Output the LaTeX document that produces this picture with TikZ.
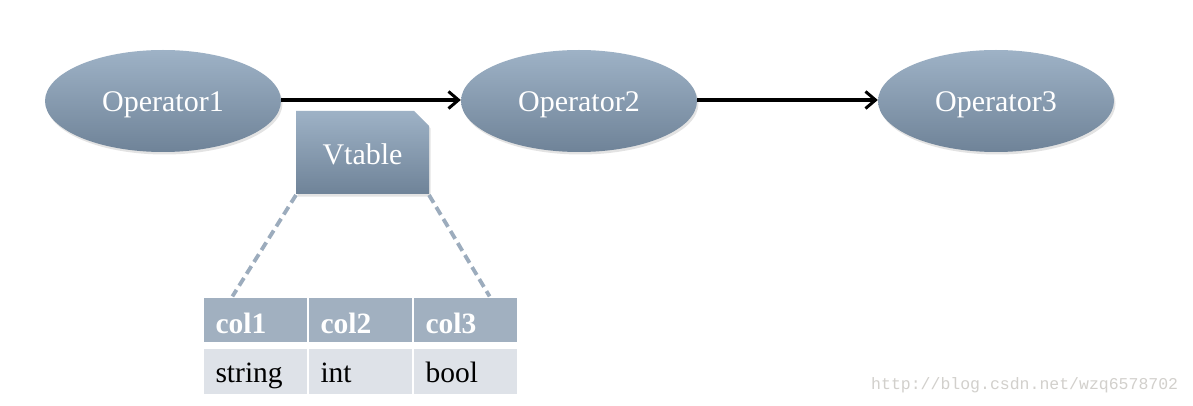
\documentclass[tikz,border=0pt]{standalone}
\usepackage{fontspec}
\setmainfont{Liberation Serif}
\newfontfamily\wmfont{Liberation Mono}
\usetikzlibrary{shapes.geometric,shadows,arrows.meta,calc}
\definecolor{optop}{HTML}{9EB2C6}
\definecolor{opbot}{HTML}{6F8398}
\definecolor{hdrfill}{HTML}{A1B0C0}
\definecolor{datfill}{HTML}{DEE2E8}
\definecolor{dashcol}{HTML}{9CACBD}
\definecolor{wmcol}{HTML}{D2D0CC}
\begin{document}
\begin{tikzpicture}[x=1pt,y=-1pt,
  opnode/.style={ellipse, minimum width=236pt, minimum height=102pt, inner sep=0pt,
    top color=optop, bottom color=opbot, text=white,
    font=\fontsize{30}{32}\selectfont, text height=22pt, text depth=0pt,
    drop shadow={opacity=0.22, shadow xshift=1.5pt, shadow yshift=-2.5pt}},
  flow/.style={line width=3.2pt, -{Straight Barb[length=10pt,width=17pt,line width=3pt]}},
  vtshade/.style={top color=optop, bottom color=opbot,
    drop shadow={opacity=0.22, shadow xshift=1.5pt, shadow yshift=-2.5pt}},
  vtlabel/.style={text=white, font=\fontsize{30}{32}\selectfont, inner sep=0pt,
    text height=25pt, text depth=0pt},
  hdrcell/.style={fill=hdrfill, draw=white, line width=1.2pt, minimum width=105pt, minimum height=46pt,
    inner sep=0pt, text=white, font=\bfseries\fontsize{29.5}{32}\selectfont,
    text width=80pt, align=left, text height=30pt, text depth=4pt},
  datcell/.style={fill=datfill, draw=white, line width=1.2pt, minimum width=105pt, minimum height=47pt,
    inner sep=0pt, text=black, font=\fontsize{29.5}{32}\selectfont,
    text width=80pt, align=left, text height=25pt, text depth=4pt},
  zoomline/.style={dashcol, line width=3.8pt, dash pattern=on 9pt off 5pt},
  wmark/.style={text=wmcol, font=\wmfont\fontsize{16.5}{18}\selectfont, inner sep=0pt}
]
\useasboundingbox[fill=white] (0,0) rectangle (1193,406);

% operators
\node[opnode] (op1) at (163,101) {Operator1};
\node[opnode] (op2) at (579,101) {Operator2};
\node[opnode] (op3) at (996,101) {Operator3};

\draw[flow] ($(op1.east)+(0,-1)$) -- ($(op2.west)+(0,-1)$);
\draw[flow] ($(op2.east)+(0,-1)$) -- ($(op3.west)+(0,-1)$);

% Vtable box
\path[vtshade] (296,111) -- (414,111) -- (429,126) -- (429,194) -- (296,194) -- cycle;
\node[vtlabel, minimum width=133pt, minimum height=83pt] (vt) at (362.5,152.5) {Vtable};

% table
\node[hdrcell] (h1) at (255.5,320) {col1};
\node[hdrcell] (h2) at (360.5,320) {col2};
\node[hdrcell] (h3) at (465.5,320) {col3};
\node[datcell] (d1) at (255.5,371.5) {string};
\node[datcell] (d2) at (360.5,371.5) {int};
\node[datcell] (d3) at (465.5,371.5) {bool};

% zoom lines
\coordinate (vtsw) at (296,195);
\coordinate (vtse) at (429,195);
\draw[zoomline] (vtsw) -- ($(h1.north west)+(30,0)$);
\draw[zoomline] (vtse) -- ($(h3.north east)+(-29,0)$);

% watermark
\node[wmark, anchor=west] (wm) at (871,385) {http://blog.csdn.net/wzq6578702};
\end{tikzpicture}
\end{document}
